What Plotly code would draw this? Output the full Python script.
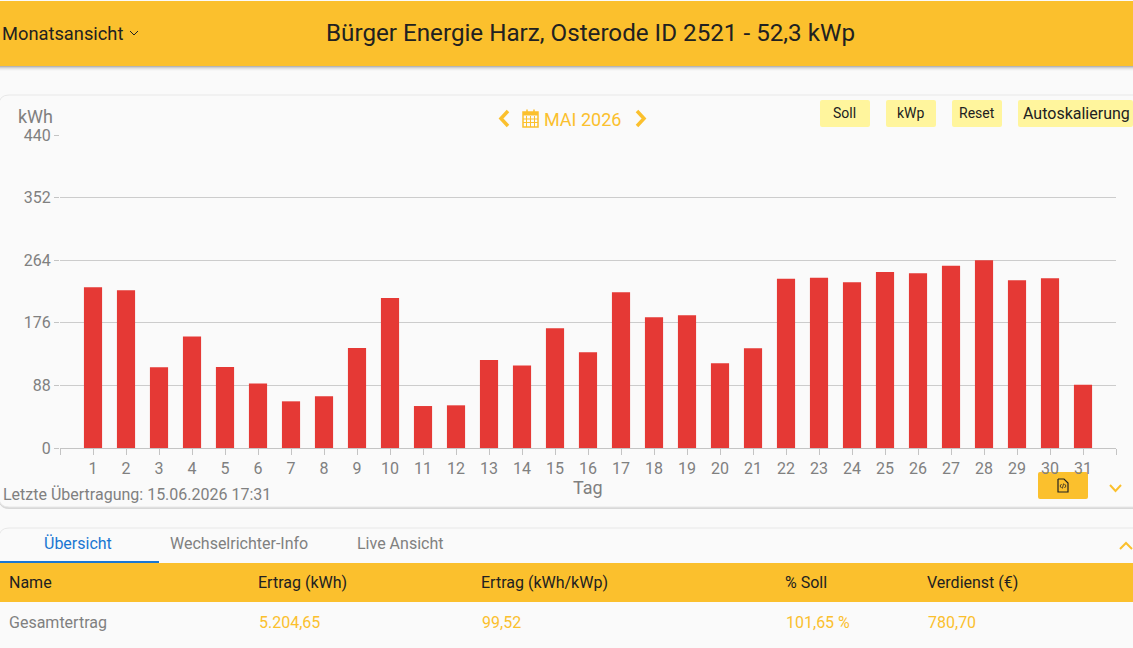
import plotly.graph_objects as go

# Daily yield for the month
days = list(range(1, 32))
ertrag_kwh = [225.9, 221.6, 113.4, 156.7, 113.9, 90.5, 65.6, 72.6, 140.6, 210.9, 59.0, 60.0, 123.7, 115.8, 168.2,
              134.5, 218.8, 183.7, 186.5, 119.0, 140.1, 238.0, 239.5, 232.9, 247.4, 245.5, 256.3, 263.8, 235.7,
              238.5, 89.0]
y_ticks = [0, 88, 176, 264, 352, 440]
table_headers = ["Name", "Ertrag (kWh)", "Ertrag (kWh/kWp)", "% Soll", "Verdienst (€)"]
table_values = ["Gesamtertrag", "5.204,65", "99,52", "101,65 %", "780,70"]
table_x = [9, 258, 481, 785, 927]
tabs = ["Übersicht", "Wechselrichter-Info", "Live Ansicht"]
tab_x = [78, 239, 400]
buttons = [("Soll", 820, 870, 14, -1), ("kWp", 886, 936, 14, 0), ("Reset", 952, 1002, 14, 0),
           ("Autoskalierung", 1018, 1133, 16, 1)]

W, H = 1133, 648
L, R, T, B = 60, 1116, 135, 448
AMBER = "#fbc02d"
TEXT = "#212121"
GREY = "#808080"
FONT = "Roboto"


def px(x):
    return (x - L) / (R - L)


def py(y):
    return (B - y) / (B - T)


def rect(x0, y0, x1, y1, fill, r=0, line=None):
    if r:
        path = (f"M {px(x0 + r)} {py(y0)} L {px(x1 - r)} {py(y0)} Q {px(x1)} {py(y0)} {px(x1)} {py(y0 + r)} "
                f"L {px(x1)} {py(y1 - r)} Q {px(x1)} {py(y1)} {px(x1 - r)} {py(y1)} "
                f"L {px(x0 + r)} {py(y1)} Q {px(x0)} {py(y1)} {px(x0)} {py(y1 - r)} "
                f"L {px(x0)} {py(y0 + r)} Q {px(x0)} {py(y0)} {px(x0 + r)} {py(y0)} Z")
        return dict(type="path", xref="paper", yref="paper", path=path, fillcolor=fill,
                    line=dict(width=1 if line else 0, color=line or fill), layer="below")
    return dict(type="rect", xref="paper", yref="paper", x0=px(x0), x1=px(x1), y0=py(y0), y1=py(y1),
                fillcolor=fill, line=dict(width=0), layer="below")


def stroke(points, color, width=2):
    path = "M " + " L ".join(f"{px(x)} {py(y)}" for x, y in points)
    return dict(type="path", xref="paper", yref="paper", path=path, line=dict(color=color, width=width))


def label(x, y, text, size, color, anchor="left"):
    return dict(xref="paper", yref="paper", x=px(x), y=py(y), text=text, showarrow=False, xanchor=anchor,
                yanchor="middle", font=dict(family=FONT, size=size, color=color), align=anchor,
                borderpad=0, borderwidth=0)


shapes = []
# Drop shadows under the header and the cards
for i, c in enumerate(["#b5b5b5", "#cfcfcf", "#e2e2e2", "#eeeeee", "#f6f6f6"]):
    shapes.append(rect(0, 66 + i, W, 67 + i, c))
shapes.append(rect(0, 1, W, 66, AMBER))
shapes.append(rect(-1, 96, W + 10, 509, "#d8d8d8", r=10))
shapes.append(rect(-1, 95, W + 10, 507, "#fafafa", r=10, line="#e8e8e8"))
shapes.append(rect(-1, 528, W + 10, 660, "#fafafa", r=10, line="#e8e8e8"))
shapes.append(rect(0, 563, W, 602, AMBER))
shapes.append(rect(0, 561, 159, 563, "#1976d2"))
# Toolbar buttons
for _, x0, x1, _s, _o in buttons:
    shapes.append(rect(x0, 100, x1, 127, "#fff59d", r=2))
shapes.append(rect(1038, 472, 1088, 499, AMBER, r=2))

# Chevrons and icons
shapes.append(stroke([(130, 31), (134, 35), (138, 31)], TEXT, 1))
shapes.append(stroke([(508, 111), (501, 118.5), (508, 126)], AMBER, 3.5))
shapes.append(stroke([(637, 111), (644, 118.5), (637, 126)], AMBER, 3.5))
shapes.append(stroke([(1110, 485), (1115.5, 491), (1121, 485)], AMBER, 2))
shapes.append(stroke([(1120, 549), (1126, 543), (1132, 549)], AMBER, 2))
# Calendar icon
shapes.append(dict(type="rect", xref="paper", yref="paper", x0=px(523), x1=px(538), y0=py(112), y1=py(127),
                   line=dict(color=AMBER, width=1.5)))
shapes.append(rect(523, 112, 538, 115.5, AMBER))
for gx in (526.5, 530.5, 534.5):
    shapes.append(stroke([(gx, 116), (gx, 127)], AMBER, 1))
for gy in (119, 122.5):
    shapes.append(stroke([(523, gy), (538, gy)], AMBER, 1))
for gx in (527, 534):
    shapes.append(stroke([(gx, 109.5), (gx, 113)], AMBER, 1.5))
# Export file icon
shapes.append(stroke([(1058, 479), (1064, 479), (1068, 483), (1068, 492), (1058, 492), (1058, 479)], TEXT, 1.2))
shapes.append(stroke([(1061.5, 484), (1060, 486), (1061.5, 488)], TEXT, 0.8))
shapes.append(stroke([(1064.5, 484), (1066, 486), (1064.5, 488)], TEXT, 0.8))
shapes.append(stroke([(1063.6, 483.5), (1062.4, 488.5)], TEXT, 0.8))

annotations = [
    label(2, 33, "Monatsansicht", 18.3, TEXT),
    label(590.5, 33, "Bürger Energie Harz, Osterode ID 2521 - 52,3 kWp", 24.2, TEXT, "center"),
    label(18, 116, "kWh", 18, GREY),
    label(544, 119, "MAI 2026", 18, AMBER),
    label(3, 494, "Letzte Übertragung: 15.06.2026 17:31", 16, GREY),
    label(588, 488, "Tag", 18, GREY, "center"),
]
for text, x0, x1, size, offset in buttons:
    annotations.append(label((x0 + x1) / 2 + offset, 113.5, text, size, TEXT, "center"))
for i, (t, x) in enumerate(zip(tabs, tab_x)):
    annotations.append(label(x, 543.5, t, 16, "#1976d2" if i == 0 else GREY, "center"))
for head, val, x in zip(table_headers, table_values, table_x):
    annotations.append(label(x, 582.5, head, 16, TEXT))
    annotations.append(label(x + (0 if head == "Name" else 0.7), 622.5, val, 16, GREY if head == "Name" else AMBER))

fig = go.Figure(go.Bar(x=days, y=ertrag_kwh, width=0.55, marker=dict(color="#e53935", line=dict(width=0))))
fig.update_layout(
    width=W, height=H, autosize=False, showlegend=False, bargap=0.45,
    margin=dict(l=L, r=W - R, t=T, b=H - B, pad=0),
    paper_bgcolor="#fafafa", plot_bgcolor="rgba(0,0,0,0)",
    font=dict(family=FONT, color=GREY, size=14),
    shapes=shapes, annotations=annotations,
    xaxis=dict(range=[0, 32], tickmode="array", tickvals=list(range(0, 33)),
               ticktext=[""] + [str(d) for d in days] + [""],
               ticks="outside", ticklen=6, tickcolor="#c4c4c4", tickwidth=1, showgrid=False, zeroline=False,
               showline=True, linecolor="#c4c4c4", linewidth=1, tickfont=dict(size=16, color=GREY)),
    yaxis=dict(range=[0, 440], tickmode="array", tickvals=y_ticks, ticks="outside", ticklen=5, tickcolor="#c4c4c4",
               tickwidth=1, showgrid=True, gridcolor="#cccccc", gridwidth=1, zeroline=False, showline=False,
               tickfont=dict(size=16, color=GREY)),
)
fig.write_html("out.html", config=dict(displayModeBar=False))
